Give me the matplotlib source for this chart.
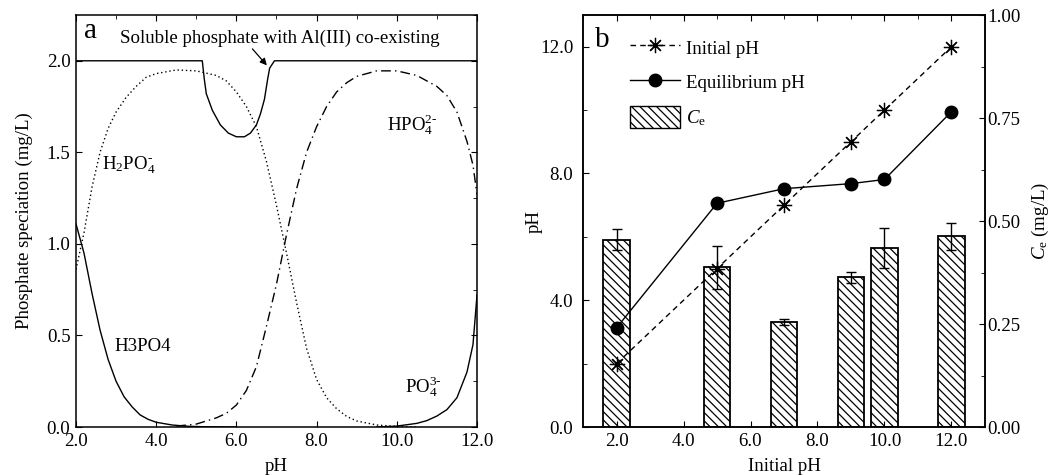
import matplotlib
matplotlib.use("Agg")
import matplotlib.pyplot as plt
from matplotlib.patches import Patch
from matplotlib.lines import Line2D
from matplotlib.ticker import MultipleLocator, FormatStrFormatter

plt.rcParams['font.family'] = ['Liberation Serif', 'DejaVu Serif']
plt.rcParams['mathtext.fontset'] = 'custom'
plt.rcParams['mathtext.rm'] = 'Liberation Serif'
plt.rcParams['mathtext.it'] = 'Liberation Serif:italic'
plt.rcParams['font.size'] = 13.6
plt.rcParams['hatch.linewidth'] = 0.9
plt.rcParams['axes.linewidth'] = 1.1

# ---- panel a: phosphate speciation ----
ph_h3po4 = [2.0, 2.2, 2.4, 2.6, 2.8, 3.0, 3.2, 3.4, 3.6, 3.8, 4.0, 4.4, 4.8, 5.2, 6.0]
c_h3po4 = [1.11, 0.95, 0.73, 0.53, 0.37, 0.25, 0.165, 0.11, 0.066, 0.042, 0.026, 0.011, 0.004, 0.0015, 0.0]

ph_h2po4 = [2.0, 2.2, 2.4, 2.6, 2.8, 3.0, 3.25, 3.5, 3.75, 4.0, 4.5, 5.0, 5.5, 5.75, 6.0,
            6.25, 6.5, 6.75, 7.0, 7.25, 7.5, 7.75, 8.0, 8.25, 8.5, 8.75, 9.0, 9.5, 10.0, 10.5]
c_h2po4 = [0.86, 1.06, 1.31, 1.50, 1.63, 1.72, 1.80, 1.86, 1.91, 1.93, 1.95, 1.945, 1.92, 1.89, 1.83,
           1.75, 1.64, 1.45, 1.21, 0.95, 0.68, 0.43, 0.26, 0.16, 0.10, 0.058, 0.033, 0.011, 0.003, 0.0]

ph_hpo4 = [4.5, 5.0, 5.5, 5.75, 6.0, 6.25, 6.5, 6.75, 7.0, 7.25, 7.5, 7.75, 8.0, 8.25, 8.5,
           8.75, 9.0, 9.5, 10.0, 10.5, 10.75, 11.0, 11.25, 11.5, 11.75, 11.9, 12.0]
c_hpo4 = [0.005, 0.016, 0.05, 0.075, 0.12, 0.20, 0.33, 0.55, 0.78, 1.05, 1.30, 1.50, 1.64, 1.75, 1.83,
          1.88, 1.915, 1.945, 1.945, 1.92, 1.89, 1.86, 1.81, 1.72, 1.56, 1.43, 1.27]

ph_po4 = [9.5, 10.0, 10.5, 10.75, 11.0, 11.25, 11.5, 11.75, 11.9, 12.0]
c_po4 = [0.0, 0.005, 0.02, 0.035, 0.06, 0.095, 0.16, 0.30, 0.45, 0.72]

ph_al = [2.0, 5.15, 5.2, 5.25, 5.4, 5.6, 5.8, 6.0, 6.2, 6.35, 6.5, 6.6, 6.7, 6.78, 6.83, 6.95, 12.0]
c_al = [2.0, 2.0, 1.90, 1.82, 1.73, 1.65, 1.605, 1.585, 1.585, 1.605, 1.65, 1.71, 1.79, 1.90, 1.96, 2.0, 2.0]

# ---- panel b ----
initial_ph = [2.0, 5.0, 7.0, 9.0, 10.0, 12.0]
equilibrium_ph = [3.13, 7.06, 7.52, 7.68, 7.81, 9.95]
ce = [0.455, 0.388, 0.254, 0.363, 0.435, 0.463]
ce_err = [0.025, 0.052, 0.007, 0.014, 0.048, 0.033]

fig = plt.figure(figsize=(10.64, 4.75), dpi=100)
ax = fig.add_axes([0.0714, 0.101, 0.3769, 0.8674])
axb = fig.add_axes([0.548, 0.101, 0.3777, 0.8674])

lw = 1.0
ax.plot(ph_al, c_al, '-', color='black', lw=lw)
ax.plot(ph_h3po4, c_h3po4, '-', color='black', lw=lw)
ax.plot(ph_h2po4, c_h2po4, color='black', lw=lw, linestyle=(0, (1, 2)))
ax.plot(ph_hpo4, c_hpo4, color='black', lw=lw, linestyle=(0, (7, 3, 1, 3)))
ax.plot(ph_po4, c_po4, '-', color='black', lw=lw)

ax.set_xlim(2, 12)
ax.set_ylim(0, 2.25)
ax.xaxis.set_major_locator(MultipleLocator(2))
ax.xaxis.set_minor_locator(MultipleLocator(1))
ax.yaxis.set_major_locator(MultipleLocator(0.5))
ax.yaxis.set_minor_locator(MultipleLocator(0.25))
ax.xaxis.set_major_formatter(FormatStrFormatter('%.1f'))
ax.yaxis.set_major_formatter(FormatStrFormatter('%.1f'))
ax.tick_params(which='both', direction='in', top=True, right=True, pad=4)
ax.tick_params(which='major', length=4)
ax.tick_params(which='minor', length=3, bottom=False, left=False)
ax.set_xlabel('pH', labelpad=6)
ax.set_ylabel('Phosphate speciation (mg/L)', labelpad=10)

hy = '\u2010'
ax.text(2.2, 2.16, 'a', fontsize=21, va='center')
ax.text(3.1, 2.12, 'Soluble phosphate with Al(III) co-existing', va='center')
ax.annotate('', xy=(6.76, 1.975), xytext=(6.4, 2.065),
            arrowprops=dict(arrowstyle='-|>', color='black', lw=0.9,
                            mutation_scale=10, shrinkA=0, shrinkB=0))
ax.text(2.66, 1.43, r'$\mathregular{H_2PO_4^{%s}}$' % hy, va='center')
ax.text(2.96, 0.44, 'H3PO4', va='center')
ax.text(9.75, 1.65, r'$\mathregular{HPO_4^{2%s}}$' % hy, va='center')
ax.text(10.2, 0.22, r'$\mathregular{PO_4^{3%s}}$' % hy, va='center')

# panel b
ax2 = axb.twinx()
axb.set_zorder(ax2.get_zorder() + 1)
axb.patch.set_visible(False)

ax2.bar(initial_ph, ce, width=0.8, facecolor='white', edgecolor='black',
        linewidth=1.3, hatch='\\\\\\\\')
ax2.errorbar(initial_ph, ce, yerr=ce_err, fmt='none', ecolor='black',
             elinewidth=1.0, capsize=3.5, capthick=1.0)

star = (8, 2, 0)
axb.plot(initial_ph, initial_ph, color='black', lw=1.0, linestyle=(0, (4, 3)),
         marker=star, markersize=11, markeredgewidth=0.9)
axb.plot(initial_ph, equilibrium_ph, color='black', lw=1.0, linestyle='-',
         marker='o', markersize=9)

axb.set_xlim(1, 13)
axb.set_ylim(0, 13)
ax2.set_ylim(0, 1.0)
axb.xaxis.set_major_locator(MultipleLocator(2))
axb.xaxis.set_minor_locator(MultipleLocator(1))
axb.yaxis.set_major_locator(MultipleLocator(4))
axb.yaxis.set_minor_locator(MultipleLocator(2))
ax2.yaxis.set_major_locator(MultipleLocator(0.25))
ax2.yaxis.set_minor_locator(MultipleLocator(0.125))
axb.xaxis.set_major_formatter(FormatStrFormatter('%.1f'))
axb.yaxis.set_major_formatter(FormatStrFormatter('%.1f'))
ax2.yaxis.set_major_formatter(FormatStrFormatter('%.2f'))
axb.tick_params(which='both', direction='in', top=True, right=False)
axb.tick_params(which='major', length=4, pad=4)
axb.tick_params(axis='y', which='major', pad=7)
axb.tick_params(which='minor', length=3, bottom=False)
ax2.tick_params(which='both', direction='in', pad=2)
ax2.tick_params(which='major', length=4)
ax2.tick_params(which='minor', length=3)
axb.set_xlabel('Initial pH', labelpad=6)
axb.set_ylabel('pH', labelpad=-2)
ax2.set_ylabel(r'$C_\mathregular{e}$ (mg/L)', labelpad=6)

axb.text(1.35, 12.2, 'b', fontsize=21, va='center')

handles = [
    Line2D([], [], color='black', lw=1.0, linestyle=(0, (4, 3)), marker=star,
           markersize=11, markeredgewidth=0.9),
    Line2D([], [], color='black', lw=1.0, marker='o', markersize=9),
    Patch(facecolor='white', edgecolor='black', hatch='\\\\\\\\', linewidth=1.0),
]
labels = ['Initial pH', 'Equilibrium pH', r'$C_\mathregular{e}$']
axb.legend(handles, labels, loc='upper left', bbox_to_anchor=(0.085, 0.98),
           frameon=False, handlelength=2.6, handleheight=1.4,
           labelspacing=0.68, handletextpad=0.35, borderaxespad=0.3)

fig.savefig('out.png', dpi=100)
